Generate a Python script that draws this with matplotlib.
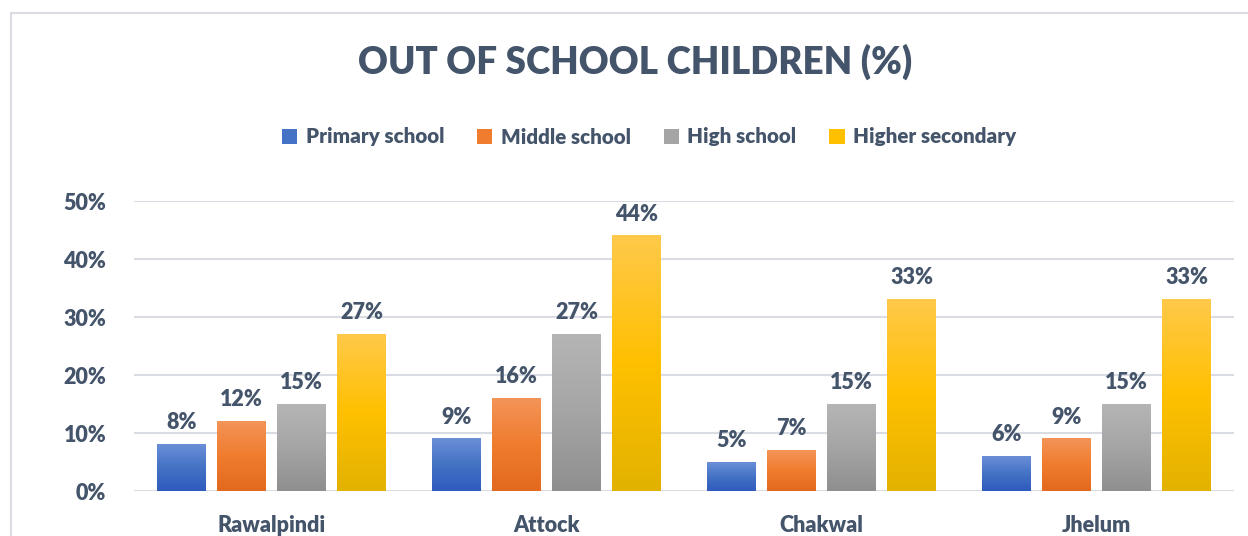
import matplotlib
matplotlib.use("Agg")
import matplotlib.pyplot as plt
import numpy as np
from matplotlib.patches import Rectangle, Patch
from matplotlib.colors import LinearSegmentedColormap

districts = ["Rawalpindi", "Attock", "Chakwal", "Jhelum"]
levels = ["Primary school", "Middle school", "High school", "Higher secondary"]
primary = [8, 9, 5, 6]
middle = [12, 16, 7, 9]
high = [15, 27, 15, 15]
higher_secondary = [27, 44, 33, 33]
yticks = [0, 10, 20, 30, 40, 50]

series = [primary, middle, high, higher_secondary]
# (top, middle, bottom) colours of each vertical gradient
gradients = [
    ("#6B8FD8", "#4472C4", "#2E5BBE"),
    ("#F39458", "#F07C2E", "#E2691E"),
    ("#B5B5B5", "#A5A5A5", "#8F8F8F"),
    ("#FFC94A", "#FFC000", "#E2B200"),
]
text_color = "#44546A"
plt.rcParams["font.family"] = ["Lato", "DejaVu Sans"]
plt.rcParams["font.weight"] = "bold"

fig = plt.figure(figsize=(12.48, 5.36), dpi=100)
fig.patch.set_facecolor("white")

# outer chart border
fig.patches.append(Rectangle((11 / 1248, -0.1), 1.2, (1 - 13 / 536) + 0.1,
                             transform=fig.transFigure, fill=False,
                             edgecolor="#D9DDE3", linewidth=1.5))

ax = fig.add_axes([134 / 1248, 45 / 536, 1100 / 1248, 290 / 536])
ax.set_xlim(-0.5, len(districts) - 0.5)
ax.set_ylim(0, 50)

bar_w = 49 / 275
step = 60 / 275
x = np.arange(len(districts))
offsets = (np.arange(len(levels)) - 1.5) * step

for i, (vals, cols) in enumerate(zip(series, gradients)):
    cmap = LinearSegmentedColormap.from_list(f"g{i}", [cols[2], cols[1], cols[0]])
    bars = ax.bar(x + offsets[i], vals, width=bar_w, color="none", zorder=3)
    grad = np.linspace(0, 1, 256).reshape(-1, 1)
    for b in bars:
        x0, y0 = b.get_x(), b.get_y()
        w, h = b.get_width(), b.get_height()
        ax.imshow(grad, cmap=cmap, origin="lower", aspect="auto",
                  extent=(x0, x0 + w, y0, y0 + h), zorder=3)
    for xi, v in zip(x + offsets[i], vals):
        ax.annotate(f"{v}%", (xi, v), xytext=(0, 8), textcoords="offset points",
                    ha="center", va="bottom", fontsize=15.5, fontweight="heavy",
                    color=text_color, zorder=4)
ax.set_xlim(-0.5, len(districts) - 0.5)
ax.set_ylim(0, 50)

ax.set_yticks(yticks)
ax.set_yticklabels([f"{t}%" for t in yticks])
ax.set_xticks(x)
ax.set_xticklabels(districts)
ax.tick_params(axis="both", length=0, labelsize=15.5, labelcolor=text_color)
for lab in ax.get_xticklabels() + ax.get_yticklabels():
    lab.set_fontweight("heavy")
ax.tick_params(axis="y", pad=20)
ax.tick_params(axis="x", pad=17)
for s in ax.spines.values():
    s.set_visible(False)
ax.grid(axis="y", color="#D9DDE3", linewidth=1.5, zorder=0)
ax.set_axisbelow(True)

fig.text(0.509, 1 - 62 / 536, "OUT OF SCHOOL CHILDREN (%)", ha="center",
         va="center", fontsize=26.5, fontweight="heavy", color=text_color)

handles = [Patch(facecolor=c[1], edgecolor="none") for c in gradients]
leg = fig.legend(handles, levels, loc="center", bbox_to_anchor=(0.52, 1 - 137 / 536),
                 ncol=4, frameon=False, fontsize=14.8, labelcolor=text_color,
                 handlelength=0.75, handleheight=0.75, handletextpad=0.4,
                 columnspacing=1.6)
for t in leg.get_texts():
    t.set_fontweight("heavy")

fig.savefig("out.png", dpi=100)
